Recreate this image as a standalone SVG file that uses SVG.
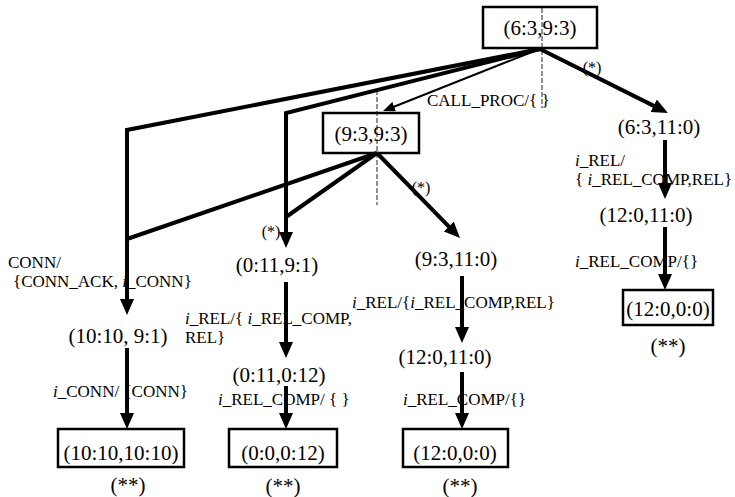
<svg xmlns="http://www.w3.org/2000/svg" width="735" height="497" viewBox="0 0 735 497">
  <style>
    .box { fill: #fff; stroke: #000; stroke-width: 2.5; }
    .st { font-family: "Liberation Serif", "Times New Roman", serif; font-size: 21px; fill: #000; text-anchor: middle; }
    .lb { font-family: "Liberation Serif", "Times New Roman", serif; font-size: 17px; fill: #000; }
    .star { font-family: "Liberation Serif", "Times New Roman", serif; font-size: 16px; fill: #000; text-anchor: middle; }
    .it { font-style: italic; }
    .guide { stroke: #222; stroke-width: 1; stroke-dasharray: 5 2; fill: none; }
    .thick { stroke: #000; stroke-width: 4; fill: none; stroke-linejoin: miter; }
    .thin { stroke: #000; stroke-width: 2; fill: none; }
  </style>
  <defs>
    <marker id="ah" markerUnits="userSpaceOnUse" markerWidth="16" markerHeight="14" refX="4" refY="7" orient="auto">
      <path d="M0,0 L16,7 L0,14 Z" fill="#000"/>
    </marker>
    <marker id="ahs" markerUnits="userSpaceOnUse" markerWidth="12" markerHeight="10" refX="3" refY="5" orient="auto">
      <path d="M0,0 L12,5 L0,10 Z" fill="#000"/>
    </marker>
  </defs>

  <rect width="735" height="497" fill="#fff"/>

  <!-- states -->
  <g id="s-6-3-9-3">
    <rect class="box" x="483" y="7" width="114" height="41"/>
    <text class="st" x="540" y="35">(6:3,9:3)</text>
  </g>
  <g id="s-9-3-9-3">
    <rect class="box" x="323" y="113" width="96" height="40"/>
    <text class="st" x="371" y="141">(9:3,9:3)</text>
  </g>
  <g id="s-6-3-11-0">
    <text class="st" x="659" y="134">(6:3,11:0)</text>
  </g>
  <g id="s-12-0-11-0-b">
    <text class="st" x="646" y="222">(12:0,11:0)</text>
  </g>
  <g id="s-12-0-0-0-b">
    <rect class="box" x="623" y="290" width="90" height="35"/>
    <text class="st" x="668" y="316">(12:0,0:0)</text>
    <text class="st" x="668" y="353">(**)</text>
  </g>
  <g id="s-10-10-9-1">
    <text class="st" x="118" y="343">(10:10, 9:1)</text>
  </g>
  <g id="s-10-10-10-10">
    <rect class="box" x="58" y="429" width="126" height="38"/>
    <text class="st" x="121" y="460">(10:10,10:10)</text>
    <text class="st" x="128" y="492">(**)</text>
  </g>
  <g id="s-0-11-9-1">
    <text class="st" x="277" y="272">(0:11,9:1)</text>
  </g>
  <g id="s-0-11-0-12">
    <text class="st" x="279" y="382">(0:11,0:12)</text>
  </g>
  <g id="s-0-0-0-12">
    <rect class="box" x="229" y="429" width="108" height="38"/>
    <text class="st" x="283" y="460">(0:0,0:12)</text>
    <text class="st" x="283" y="493">(**)</text>
  </g>
  <g id="s-9-3-11-0">
    <text class="st" x="456" y="266">(9:3,11:0)</text>
  </g>
  <g id="s-12-0-11-0-a">
    <text class="st" x="445" y="364">(12:0,11:0)</text>
  </g>
  <g id="s-12-0-0-0-a">
    <rect class="box" x="403" y="429" width="105" height="38"/>
    <text class="st" x="455" y="460">(12:0,0:0)</text>
    <text class="st" x="460" y="493">(**)</text>
  </g>

  <!-- transition labels -->
  <g id="labels">
    <text class="star" x="592" y="73">(*)</text>
    <text class="lb" x="427" y="106">CALL_PROC/{ }</text>
    <text class="star" x="421" y="193">(*)</text>
    <text class="star" x="271" y="237">(*)</text>
    <text class="lb" x="8" y="268">CONN/</text>
    <text class="lb" x="13" y="287">{CONN_ACK,  <tspan class="it">i</tspan>_CONN}</text>
    <text class="lb" x="53" y="397"><tspan class="it">i</tspan>_CONN/ {CONN}</text>
    <text class="lb" x="185" y="324"><tspan class="it">i</tspan>_REL/{ <tspan class="it">i</tspan>_REL_COMP,</text>
    <text class="lb" x="185" y="343">REL}</text>
    <text class="lb" x="218" y="405"><tspan class="it">i</tspan>_REL_COMP/ { }</text>
    <text class="lb" x="352" y="308"><tspan class="it">i</tspan>_REL/{<tspan class="it">i</tspan>_REL_COMP,REL}</text>
    <text class="lb" x="403" y="405"><tspan class="it">i</tspan>_REL_COMP/{}</text>
    <text class="lb" x="575" y="166"><tspan class="it">i</tspan>_REL/</text>
    <text class="lb" x="575" y="185">{ <tspan class="it">i</tspan>_REL_COMP,REL}</text>
    <text class="lb" x="575" y="267"><tspan class="it">i</tspan>_REL_COMP/{}</text>
  </g>

  <!-- transitions -->
  <g id="connectors">
    <line class="guide" x1="542" y1="8" x2="542" y2="108"/>
    <line class="guide" x1="377" y1="90" x2="377" y2="205"/>

    <path class="thick" d="M540,49 L657.3,107.6" marker-end="url(#ah)"/>
    <path class="thin" d="M537,50 L391.4,107.7" marker-end="url(#ahs)"/>
    <path class="thick" d="M540,49 L127,130 L127,303" marker-end="url(#ah)"/>
    <path class="thick" d="M540,49 L286,113 L286,236" marker-end="url(#ah)"/>

    <path class="thick" d="M377,153 L127,239"/>
    <path class="thick" d="M377,153 L286,217"/>
    <path class="thick" d="M377,153 L451.6,229.4" marker-end="url(#ah)"/>

    <path class="thick" d="M665,140 L665,187" marker-end="url(#ah)"/>
    <path class="thick" d="M665,227 L665,278" marker-end="url(#ah)"/>

    <path class="thick" d="M127,348 L127,417" marker-end="url(#ah)"/>

    <path class="thick" d="M286,282 L286,346" marker-end="url(#ah)"/>
    <path class="thick" d="M286,386 L286,417" marker-end="url(#ah)"/>

    <path class="thick" d="M462,276 L462,331" marker-end="url(#ah)"/>
    <path class="thick" d="M462,372 L462,417" marker-end="url(#ah)"/>
  </g>
</svg>
